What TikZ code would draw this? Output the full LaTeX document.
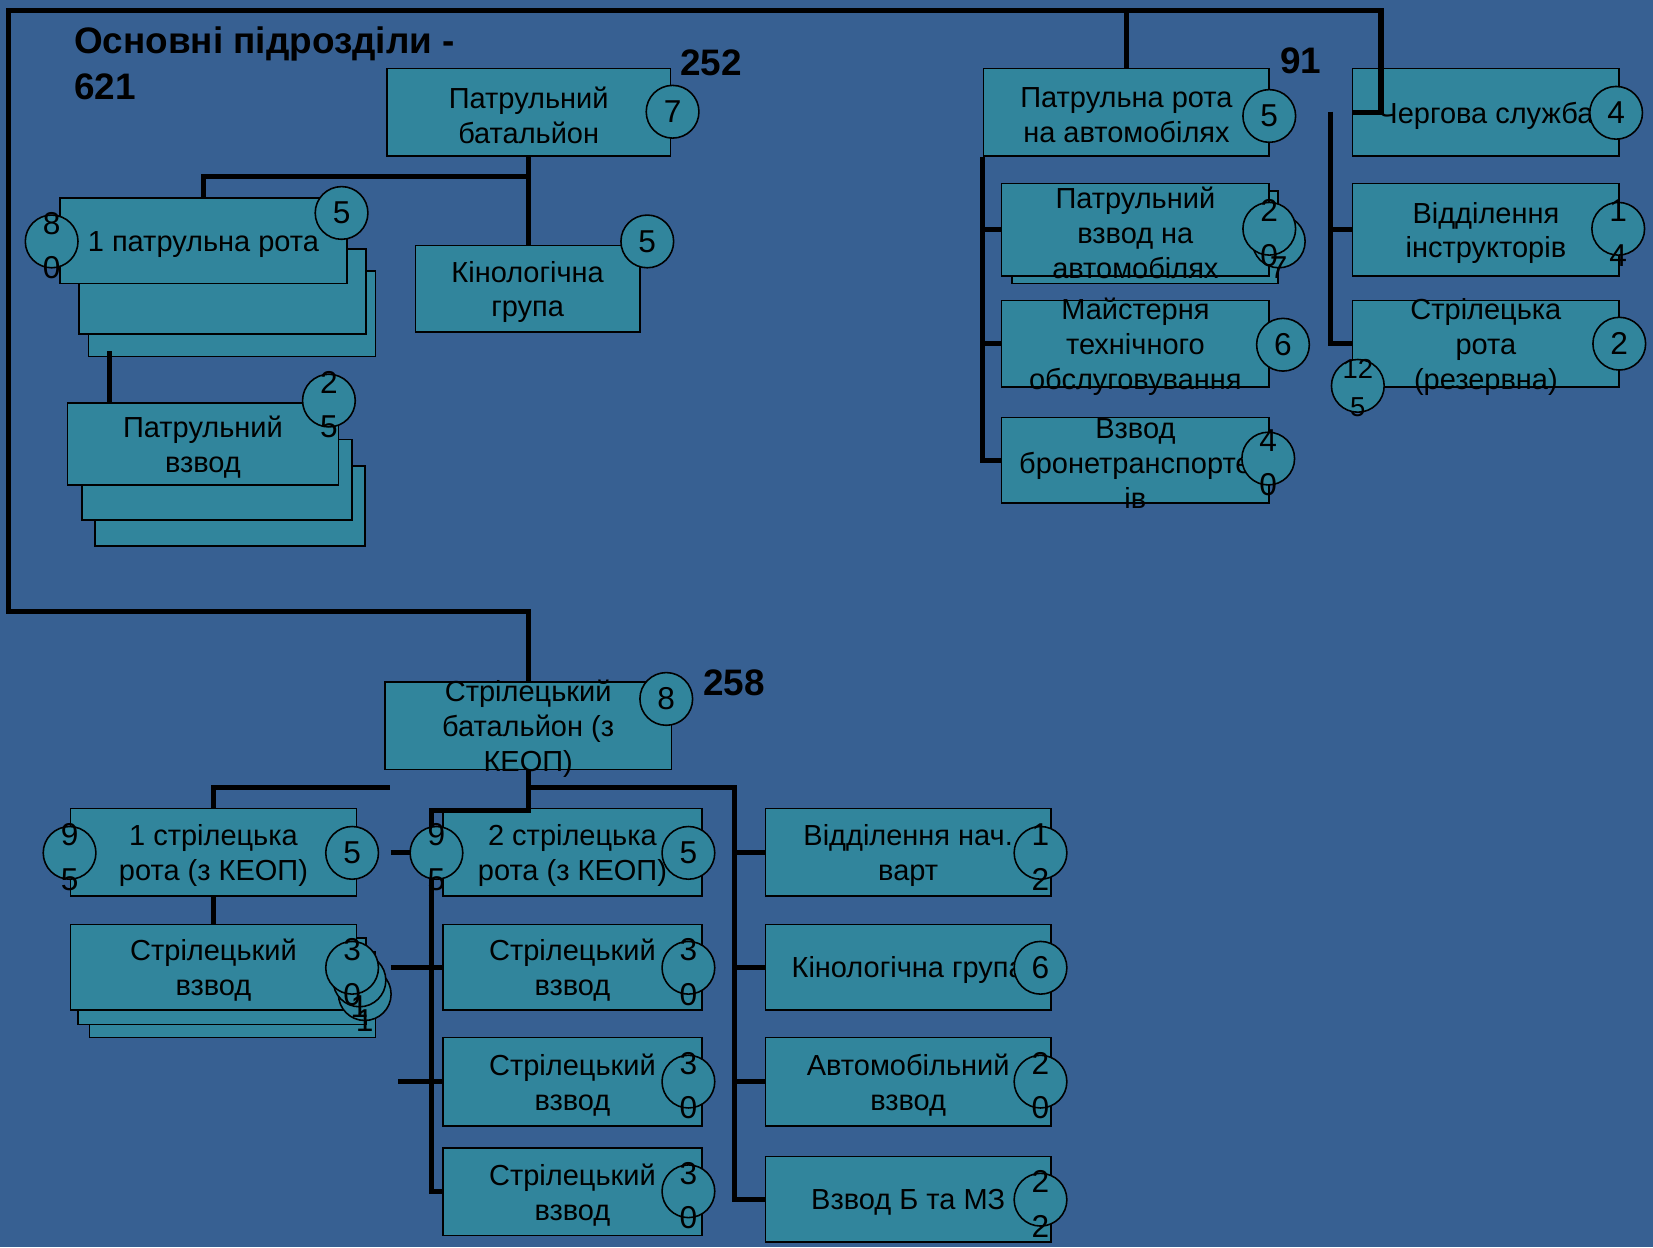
\documentclass[tikz,border=0pt]{standalone}
\usepackage{fontspec}
\setmainfont{Liberation Sans}
\definecolor{slidebg}{RGB}{55,96,146}
\definecolor{unitteal}{RGB}{49,133,156}
\tikzset{
  unit/.style 2 args={
    draw=black,
    fill=unitteal,
    line width=1.5pt,
    minimum width=#1pt,
    minimum height=#2pt,
    inner sep=0pt
  },
  unit text/.style={
    font=\fontsize{27.5}{33}\selectfont,
    align=center,
    inner sep=0pt,
    yshift=-3pt
  },
  strength/.style={
    circle,
    draw=black,
    fill=unitteal,
    line width=1.5pt,
    minimum size=50pt,
    inner sep=0pt,
    label={[strength text]center:#1}
  },
  strength2/.style={
    strength=,
    label={[strength text,yshift=-4pt]center:#1}
  },
  strength text/.style={
    font=\fontsize{30}{42}\selectfont,
    align=center,
    inner sep=0pt
  },
  total/.style={
    font=\bfseries\fontsize{35}{44}\selectfont,
    align=left,
    anchor=west,
    inner sep=0pt
  },
  link/.style={
    draw=black,
    line width=5pt
  }
}

\begin{document}
\begin{tikzpicture}[x=1pt,y=-1pt]
  \useasboundingbox[fill=slidebg] (0,0) rectangle (1568,1183);

  % totals
  \node[total] (title) at (70,60) {Основні підрозділи -\\621};
  \node[total] (t252) at (645,60) {252};
  \node[total] (t91) at (1214,58) {91};
  \node[total] (t258) at (667,648) {258};

  % patrol battalion
  \node[unit={269}{83}, label={[unit text]center:Патрульний\\батальйон}] (pbat) at (501.5,106.5) {};
  \node[unit={272}{81}] (prota3) at (220,297.5) {};
  \node[unit={272}{81}] (prota2) at (211,276.5) {};
  \node[unit={272}{81}, label={[unit text]center:1 патрульна рота}] (prota) at (193,228.5) {};
  \node[unit={213}{82}, label={[unit text]center:Кінологічна\\група}] (kgrp) at (500.5,274) {};
  \node[unit={256}{76}] (pvzv3) at (218,480) {};
  \node[unit={256}{76}] (pvzv2) at (206,455) {};
  \node[unit={257}{78}, label={[unit text]center:Патрульний\\взвод}] (pvzv) at (192.5,421) {};

  % mobile patrol company
  \node[unit={271}{83}, label={[unit text]center:Патрульна рота\\на автомобілях}] (proa) at (1068.5,106.5) {};
  \node[unit={252}{88}] (pvza2) at (1086,225) {};
  \node[unit={254}{88}, label={[unit text]center:Патрульний\\взвод на\\автомобілях}] (pvza) at (1077,218) {};
  \node[unit={254}{82}, label={[unit text]center:Майстерня\\технічного\\обслуговування}] (mto) at (1077,326) {};
  \node[unit={254}{81}, label={[unit text]center:Взвод\\бронетранспорте\\ів}] (vbtr) at (1077,436.5) {};

  % right column
  \node[unit={253}{83}, label={[unit text]center:Чергова служба}] (cherg) at (1409.5,106.5) {};
  \node[unit={253}{88}, label={[unit text]center:Відділення\\інструкторів}] (vinstr) at (1409.5,218) {};
  \node[unit={253}{82}, label={[unit text]center:Стрілецька\\рота\\(резервна)}] (srrez) at (1409.5,326) {};

  % rifle battalion
  \node[unit={272}{83}, label={[unit text]center:Стрілецький\\батальйон (з\\КЕОП)}] (sbat) at (501,688.5) {};
  \node[unit={271}{83}, label={[unit text]center:1 стрілецька\\рота (з КЕОП)}] (srota1) at (202.5,808.5) {};
  \node[unit={271}{81}] (svzv1c) at (220.5,943.5) {};
  \node[unit={273}{82}] (svzv1b) at (210.5,931) {};
  \node[unit={271}{81}, label={[unit text]center:Стрілецький\\взвод}] (svzv1) at (202.5,917.5) {};
  \node[unit={246}{83}, label={[unit text]center:2 стрілецька\\рота (з КЕОП)}] (srota2) at (543,808.5) {};
  \node[unit={246}{81}, label={[unit text]center:Стрілецький\\взвод}] (svzv2) at (543,917.5) {};
  \node[unit={246}{84}, label={[unit text]center:Стрілецький\\взвод}] (svzv3) at (543,1026) {};
  \node[unit={246}{83}, label={[unit text]center:Стрілецький\\взвод}] (svzv4) at (543,1130.5) {};
  \node[unit={271}{83}, label={[unit text]center:Відділення нач.\\варт}] (vnv) at (861.5,808.5) {};
  \node[unit={271}{81}, label={[unit text]center:Кінологічна група}] (kgrp2) at (861.5,917.5) {};
  \node[unit={271}{84}, label={[unit text]center:Автомобільний\\взвод}] (avzv) at (861.5,1026) {};
  \node[unit={271}{81}, label={[unit text]center:Взвод Б та МЗ}] (vbmz) at (861.5,1137.5) {};

  % connectors
  \coordinate (frame sw) at (8,580);
  \coordinate (frame nw) at (8,10);
  \coordinate (frame ne) at (1310,10);
  \draw[link] (sbat.north) |- (frame sw) -- (frame nw) -- (frame ne) |- (cherg.west);
  \draw[link] (proa.north) -- (proa.north |- frame ne);

  \draw[link] (pbat.south) -- ++(0,19) -| (prota.north);
  \draw[link] (pbat.south) -- (pbat.south |- kgrp.north);
  \coordinate (pvzv tap) at (104,333);
  \draw[link] (pvzv tap) -- (pvzv tap |- pvzv.north);

  \draw[link] (proa.south west) |- (vbtr.west);
  \foreach \n in {pvza,mto}
    \draw[link] (proa.south west |- \n.west) -- (\n.west);

  \coordinate (rspine) at (1262,106);
  \draw[link] (rspine) |- (srrez.west);
  \draw[link] (rspine |- vinstr.west) -- (vinstr.west);

  \coordinate (lstub) at (370,747);
  \coordinate (bspine) at (697,747);
  \coordinate (mspine) at (409,769);
  \coordinate (stub3) at (378,1026);
  \draw[link] (srota1.north) |- (lstub);
  \draw[link] (sbat.south) |- (bspine) |- (vbmz.west);
  \foreach \n in {vnv,kgrp2,avzv}
    \draw[link] (bspine |- \n.west) -- (\n.west);
  \draw[link] (sbat.south) |- (mspine) |- (svzv4.west);
  \draw[link] (srota1.south) -- (svzv1.north);
  \draw[link] ([xshift=32pt]srota1.east) -- (srota2.west);
  \draw[link] ([xshift=32pt]svzv1.east) -- (svzv2.west);
  \draw[link] (stub3) -- (svzv3.west);

  % head counts
  \node[strength=7] (n-pbat) at (638,106) {};
  \node[strength=5] (n-prota) at (324,202) {};
  \node[strength2={8\\0}] (n-prota-l) at (49,229) {};
  \node[strength=5] (n-kgrp) at (614,229) {};
  \node[strength2={2\\5}] (n-pvzv) at (312,380) {};
  \node[strength=5] (n-proa) at (1204,110) {};
  \node[strength2={2\\7}] (n-pvza2) at (1213,229) {};
  \node[strength2={2\\0}] (n-pvza) at (1204,217) {};
  \node[strength=6] (n-mto) at (1217,327) {};
  \node[strength2={4\\0}] (n-vbtr) at (1203,435) {};
  \node[strength=4] (n-cherg) at (1533,107) {};
  \node[strength2={1\\4}] (n-vinstr) at (1535,217) {};
  \node[strength=2] (n-srrez) at (1536,326) {};
  \node[strength=, label={[strength text,font=\fontsize{26}{36}\selectfont,yshift=-2pt]center:12\\5}] (n-srrez-l) at (1288,366) {};
  \node[strength=8] (n-sbat) at (632,663) {};
  \node[strength=5] (n-srota1) at (334,809) {};
  \node[strength2={9\\5}] (n-srota1-l) at (66,809) {};
  \node[strength2={3\\1}] (n-svzv1c) at (346,943) {};
  \node[strength2={3\\1}] (n-svzv1b) at (341,930) {};
  \node[strength2={3\\0}] (n-svzv1) at (334,918) {};
  \node[strength=5] (n-srota2) at (653,809) {};
  \node[strength2={9\\5}] (n-srota2-l) at (414,809) {};
  \node[strength2={3\\0}] (n-svzv2) at (653,918) {};
  \node[strength2={3\\0}] (n-svzv3) at (653,1026) {};
  \node[strength2={3\\0}] (n-svzv4) at (653,1130) {};
  \node[strength2={1\\2}] (n-vnv) at (987,809) {};
  \node[strength=6] (n-kgrp2) at (987,918) {};
  \node[strength2={2\\0}] (n-avzv) at (987,1026) {};
  \node[strength2={2\\2}] (n-vbmz) at (987,1138) {};
\end{tikzpicture}
\end{document}
